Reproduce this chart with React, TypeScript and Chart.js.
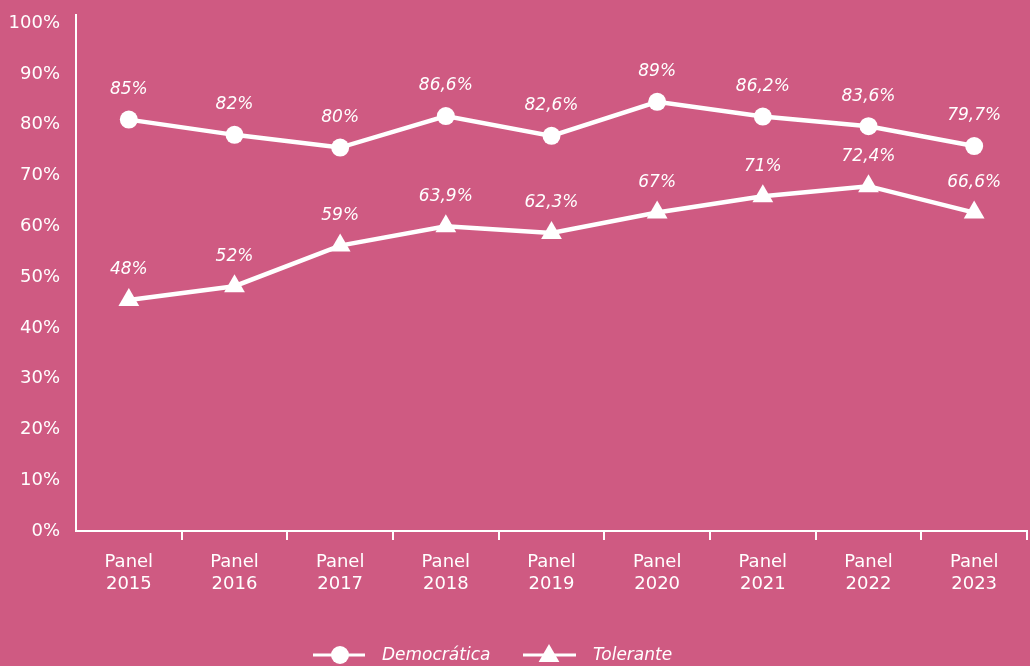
import React, { useEffect, useRef } from "react";
import { Chart, registerables } from "chart.js";

Chart.register(...registerables);

const categories: string[][] = [
  ["Panel", "2015"],
  ["Panel", "2016"],
  ["Panel", "2017"],
  ["Panel", "2018"],
  ["Panel", "2019"],
  ["Panel", "2020"],
  ["Panel", "2021"],
  ["Panel", "2022"],
  ["Panel", "2023"],
];
const democraticaValues = [81.0, 78.0, 75.5, 81.7, 77.8, 84.5, 81.6, 79.7, 75.8];
const democraticaLabels = ["85%", "82%", "80%", "86,6%", "82,6%", "89%", "86,2%", "83,6%", "79,7%"];
const toleranteValues = [45.5, 48.2, 56.2, 60.0, 58.7, 62.7, 65.9, 67.9, 62.7];
const toleranteLabels = ["48%", "52%", "59%", "63,9%", "62,3%", "67%", "71%", "72,4%", "66,6%"];
const yTickValues = [0, 10, 20, 30, 40, 50, 60, 70, 80, 90, 100];
const seriesNames = ["Democrática", "Tolerante"];

const BG = "#CF5A82";
const WHITE = "#ffffff";
const FONT = "'DejaVu Sans'";

const backgroundPlugin = {
  id: "bgFill",
  beforeDraw(chart: any) {
    const { ctx, width, height } = chart;
    ctx.save();
    ctx.fillStyle = BG;
    ctx.fillRect(0, 0, width, height);
    ctx.restore();
  },
};

const valueLabelPlugin = {
  id: "valueLabels",
  afterDatasetsDraw(chart: any) {
    const { ctx } = chart;
    const labelSets = [democraticaLabels, toleranteLabels];
    ctx.save();
    ctx.fillStyle = WHITE;
    ctx.font = `oblique 17px ${FONT}`;
    ctx.textAlign = "center";
    ctx.textBaseline = "middle";
    chart.data.datasets.forEach((_: any, di: number) => {
      const meta = chart.getDatasetMeta(di);
      meta.data.forEach((pt: any, i: number) => {
        ctx.fillText(labelSets[di][i], pt.x, pt.y - 30);
      });
    });
    ctx.restore();
  },
};

const legendPlugin = {
  id: "customLegend",
  afterDraw(chart: any) {
    const { ctx } = chart;
    const y = 655;
    ctx.save();
    ctx.strokeStyle = WHITE;
    ctx.fillStyle = WHITE;
    ctx.lineWidth = 3;
    // Democrática
    let x = 313;
    ctx.beginPath();
    ctx.moveTo(x, y);
    ctx.lineTo(x + 52, y);
    ctx.stroke();
    ctx.beginPath();
    ctx.arc(x + 27, y, 9, 0, Math.PI * 2);
    ctx.fill();
    ctx.font = `oblique 17px ${FONT}`;
    ctx.textAlign = "left";
    ctx.textBaseline = "middle";
    ctx.fillText(seriesNames[0], x + 69, y + 1);
    // Tolerante
    x = 523;
    ctx.beginPath();
    ctx.moveTo(x, y);
    ctx.lineTo(x + 53, y);
    ctx.stroke();
    const cx = x + 26;
    const r = 12;
    const cy = y + 1;
    ctx.beginPath();
    ctx.moveTo(cx, cy - r);
    ctx.lineTo(cx + Math.sin((2 * Math.PI) / 3) * r, cy - Math.cos((2 * Math.PI) / 3) * r);
    ctx.lineTo(cx + Math.sin((4 * Math.PI) / 3) * r, cy - Math.cos((4 * Math.PI) / 3) * r);
    ctx.closePath();
    ctx.fill();
    ctx.fillText(seriesNames[1], x + 70, y + 1);
    ctx.restore();
  },
};

export default function App() {
  const canvasRef = useRef<HTMLCanvasElement | null>(null);

  useEffect(() => {
    document.body.style.margin = "0";
    document.body.style.background = BG;
    const canvas = canvasRef.current;
    if (!canvas) return;
    const chart = new Chart(canvas, {
      type: "line",
      data: {
        labels: categories as any,
        datasets: [
          {
            label: seriesNames[0],
            data: democraticaValues,
            borderColor: WHITE,
            backgroundColor: WHITE,
            borderWidth: 4.5,
            pointStyle: "circle",
            pointRadius: 9,
            pointBackgroundColor: WHITE,
            pointBorderColor: WHITE,
            pointBorderWidth: 0,
            tension: 0,
            fill: false,
            clip: false,
          },
          {
            label: seriesNames[1],
            data: toleranteValues,
            borderColor: WHITE,
            backgroundColor: WHITE,
            borderWidth: 4.5,
            pointStyle: "triangle",
            pointRadius: 12,
            pointBackgroundColor: WHITE,
            pointBorderColor: WHITE,
            pointBorderWidth: 0,
            tension: 0,
            fill: false,
            clip: false,
          },
        ],
      },
      options: {
        responsive: false,
        animation: false,
        devicePixelRatio: 1,
        layout: { autoPadding: false, padding: { top: 15, bottom: 55, left: 0, right: 3 } },
        plugins: {
          legend: { display: false },
          tooltip: { enabled: false },
        },
        scales: {
          x: {
            type: "category",
            offset: true,
            grid: {
              display: true,
              offset: true,
              drawOnChartArea: false,
              drawTicks: true,
              tickLength: 9,
              lineWidth: 2,
              color: (c: any) => (c.index === 0 ? "rgba(0,0,0,0)" : WHITE),
            },
            border: { display: true, color: WHITE, width: 2 },
            ticks: {
              color: WHITE,
              font: { family: FONT, size: 18, lineHeight: 1.25 },
              padding: 11,
              maxRotation: 0,
              autoSkip: false,
            },
            afterFit: (s: any) => {
              s.height = 80;
              s.paddingLeft = 0;
              s.paddingRight = 0;
            },
          },
          y: {
            min: 0,
            max: 101.6,
            afterBuildTicks: (s: any) => {
              s.ticks = yTickValues.map((v) => ({ value: v }));
            },
            grid: { display: false, drawOnChartArea: false, drawTicks: false },
            border: { display: true, color: WHITE, width: 2 },
            ticks: {
              color: WHITE,
              font: { family: FONT, size: 18 },
              padding: 16,
              callback: (v: any) => `${v}%`,
            },
            afterFit: (s: any) => {
              s.width = 76;
              s.paddingTop = 0;
              s.paddingBottom = 0;
            },
          },
        },
      },
      plugins: [backgroundPlugin, valueLabelPlugin, legendPlugin],
    });
    return () => chart.destroy();
  }, []);

  return (
    <div style={{ position: "absolute", left: 0, top: 0, width: 1030, height: 666, background: BG }}>
      <canvas ref={canvasRef} width={1030} height={666} style={{ display: "block" }} />
    </div>
  );
}
